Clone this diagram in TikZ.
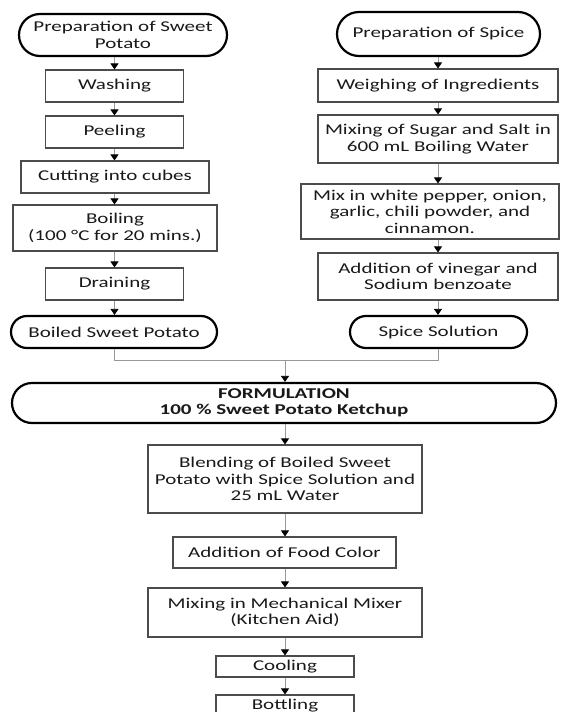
\documentclass[tikz,border=0pt]{standalone}
\usepackage{fontspec}
\setmainfont{Carlito}[FakeStretch=1.4]
\usetikzlibrary{arrows.meta}
\begin{document}
\begin{tikzpicture}[x=1pt,y=-1pt,
  txt/.style={font=\fontsize{15}{16.5}\selectfont, text=black!90, align=center, inner sep=1pt},
  box/.style={txt, draw=black!70, line width=1.1pt, rectangle},
  stad/.style={txt, draw=black, line width=2.2pt, rectangle},
  conn/.style={draw=black!40, line width=0.8pt},
  arr/.style={conn, -{Triangle[width=8pt,length=6pt,color=black]}}
]
\useasboundingbox (0,0) rectangle (563,712);
\clip (0,0) rectangle (563,712);
% left column
\node[stad, minimum width=208pt, minimum height=42pt, rounded corners=21pt] (psp) at (123,35) {Preparation of Sweet\\Potato};
\node[box, minimum width=138pt, minimum height=32pt] (wash) at (114.5,86) {Washing};
\node[box, minimum width=138pt, minimum height=32pt] (peel) at (114.5,132) {Peeling};
\node[box, minimum width=188pt, minimum height=32pt] (cut) at (115,177) {Cutting into cubes};
\node[box, minimum width=204pt, minimum height=46pt] (boil) at (115,228) {Boiling\\(100 °C for 20 mins.)};
\node[box, minimum width=138pt, minimum height=32pt] (drain) at (114.5,284) {Draining};
\node[stad, minimum width=206pt, minimum height=32pt, rounded corners=16pt] (bsp) at (114,332) {Boiled Sweet Potato};
% right column
\node[stad, minimum width=203pt, minimum height=44pt, rounded corners=22pt] (ps) at (438.5,34) {Preparation of Spice};
\node[box, minimum width=240pt, minimum height=33pt] (weigh) at (438,85.5) {Weighing of Ingredients};
\node[box, minimum width=240pt, minimum height=48pt] (sugar) at (438,139) {Mixing of Sugar and Salt in\\600 mL Boiling Water};
\node[box, minimum width=258pt, minimum height=55pt] (pepper) at (430,211.5) {Mix in white pepper, onion,\\garlic, chili powder, and\\cinnamon.};
\node[box, minimum width=240pt, minimum height=47pt] (vinegar) at (438,276.5) {Addition of vinegar and\\Sodium benzoate};
\node[stad, minimum width=177pt, minimum height=32pt, rounded corners=16pt] (ss) at (438.5,332) {Spice Solution};
% bottom column
\node[stad, minimum width=544pt, minimum height=40pt, rounded corners=20pt, font=\fontsize{15}{16.5}\selectfont\bfseries] (form) at (284,403) {FORMULATION\\100 \% Sweet Potato Ketchup};
\node[box, minimum width=274pt, minimum height=68pt] (blend) at (285,479) {Blending of Boiled Sweet\\Potato with Spice Solution and\\25 mL Water};
\node[box, minimum width=223pt, minimum height=31pt] (food) at (284.5,552.5) {Addition of Food Color};
\node[box, minimum width=274pt, minimum height=49pt] (mech) at (285,612.5) {Mixing in Mechanical Mixer\\(Kitchen Aid)};
\node[box, minimum width=138pt, minimum height=21pt] (cool) at (285,666.5) {Cooling};
\node[box, minimum width=138pt, minimum height=21pt] (bottle) at (285,705.5) {Bottling};
\coordinate (j) at (285,360);
% connectors
\foreach \a/\b in {psp/wash,wash/peel,peel/cut,cut/boil,boil/drain,drain/bsp}
  \draw[arr] (\a.south -| wash.south) -- (\b.north -| wash.south);
\foreach \a/\b in {ps/weigh,weigh/sugar,sugar/pepper,pepper/vinegar,vinegar/ss}
  \draw[arr] (\a.south -| weigh.south) -- (\b.north -| weigh.south);
\foreach \a/\b in {form/blend,blend/food,food/mech,mech/cool,cool/bottle}
  \draw[arr] (\a.south -| j) -- (\b.north -| j);
\draw[conn] (bsp.south) |- (j);
\draw[conn] (ss.south) |- (j);
\draw[arr] (j) -- (form.north -| j);
\end{tikzpicture}
\end{document}
